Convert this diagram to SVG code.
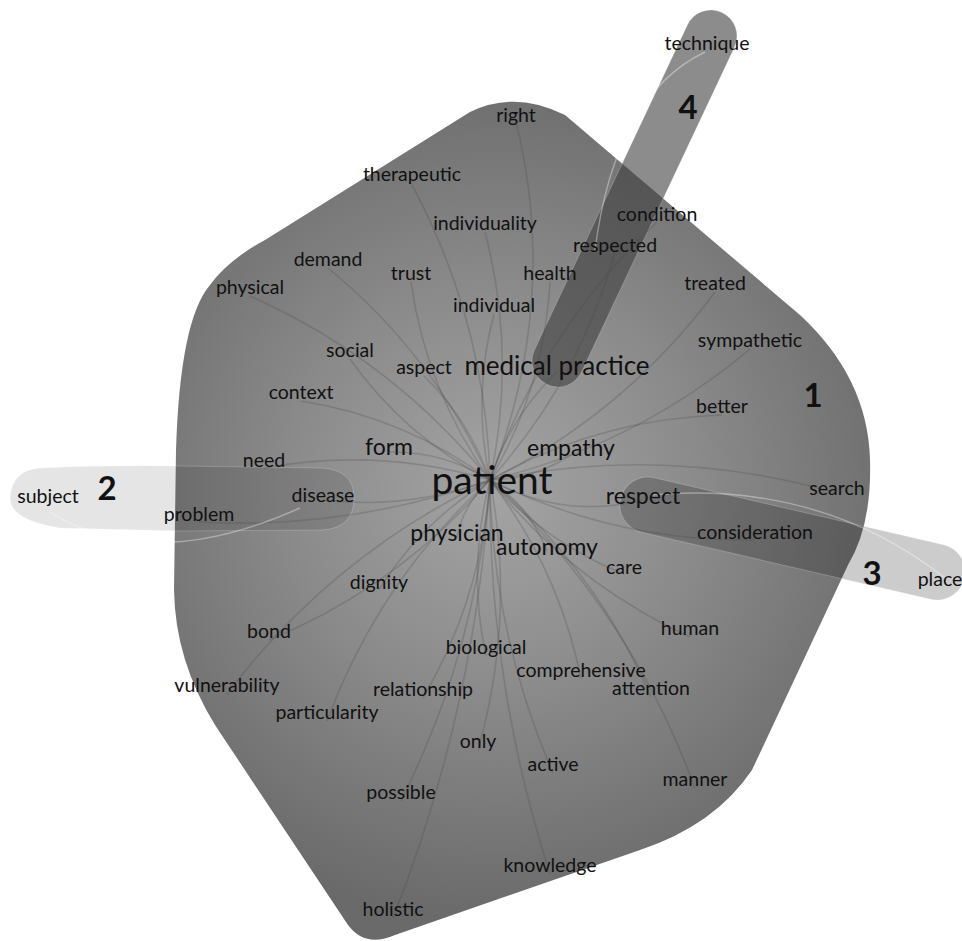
<svg xmlns="http://www.w3.org/2000/svg" width="962" height="941" viewBox="0 0 962 941">
<defs>
<radialGradient id="g1" gradientUnits="userSpaceOnUse" cx="495" cy="490" r="430">
<stop offset="0" stop-color="#a4a4a4"/>
<stop offset="0.45" stop-color="#8c8c8c"/>
<stop offset="1" stop-color="#6a6a6a"/>
</radialGradient>
</defs>
<style>
text{font-family:Lato,"Open Sans","Liberation Sans",sans-serif;fill:#111;text-anchor:middle}
.w{font-size:19.5px}
.m{font-size:23px}
.l{font-size:26px}
.xl{font-size:39px}
.n{font-size:33px;font-weight:bold}
.c path{fill:none;stroke:#4a4a4a;stroke-opacity:0.26;stroke-width:1.6}
.c path.lt{stroke:#ffffff;stroke-opacity:0.35;stroke-width:1.4}
.cl4{fill:#3f3f3f;fill-opacity:0.6;stroke:#ffffff;stroke-opacity:0.2}
.cl3{fill:#000;fill-opacity:0.2;stroke:#ffffff;stroke-opacity:0.2}
.cl2{fill:#000;fill-opacity:0.1;stroke:#ffffff;stroke-opacity:0.2}
</style>
<g id="clusters">
<path id="cluster1" fill="url(#g1)" d="M 470,112 Q 515,90 565,115 L 800,315 Q 868,378 870,460 Q 872,525 848,565 L 752,770 Q 715,825 640,850 L 395,935 Q 365,948 348,925 L 215,725 Q 175,660 174,590 L 176,450 Q 180,320 210,285 Q 228,260 265,240 Z"/>
<path id="cluster2" class="cl2" d="M 40,468 Q 100,465 180,466 L 322,468 Q 354,470 354,498 Q 354,528 322,530 L 180,531 L 60,528 Q 10,520 10,498 Q 12,470 40,468 Z"/>
<rect id="cluster3" class="cl3" x="616" y="510.5" width="353" height="56" rx="28" transform="rotate(13.05 792.5 538.5)"/>
<rect id="cluster4" class="cl4" x="429" y="172.5" width="411" height="52" rx="26" transform="rotate(-64.8 634.5 198.5)"/>
</g>
<g id="connectors" class="c">
<path d="M490,480 Q560,300 516,122"/>
<path d="M490,480 Q486,323 412,185"/>
<path d="M490,480 Q517,355 485,232"/>
<path d="M490,480 Q542,331 657,222"/>
<path d="M490,480 Q579,381 615,252"/>
<path d="M490,480 Q434,355 328,268"/>
<path d="M490,480 Q426,390 411,282"/>
<path d="M490,480 Q544,388 550,282"/>
<path d="M490,480 Q625,413 715,292"/>
<path d="M490,480 Q392,359 250,296"/>
<path d="M490,480 Q472,397 494,314"/>
<path d="M490,480 Q636,445 750,349"/>
<path d="M490,480 Q405,437 350,359"/>
<path d="M490,480 Q469,420 424,376"/>
<path d="M490,480 Q510,417 557,372"/>
<path d="M490,480 Q404,417 301,401"/>
<path d="M490,480 Q598,419 722,415"/>
<path d="M490,480 Q443,451 389,452"/>
<path d="M490,480 Q534,479 571,455"/>
<path d="M490,480 Q378,447 264,468"/>
<path d="M490,480 Q408,510 323,500"/>
<path d="M490,480 Q665,444 837,493"/>
<path d="M490,480 Q563,520 643,500"/>
<path d="M490,480 Q348,530 199,522"/>
<path d="M490,480 Q615,542 755,540"/>
<path d="M490,480 Q464,503 457,537"/>
<path d="M490,480 Q529,506 547,551"/>
<path d="M490,480 Q546,543 624,574"/>
<path d="M490,480 Q421,522 379,590"/>
<path d="M490,480 Q398,587 269,640"/>
<path d="M490,480 Q571,582 690,637"/>
<path d="M490,480 Q467,568 486,656"/>
<path d="M490,480 Q559,569 581,679"/>
<path d="M490,480 Q332,555 227,694"/>
<path d="M490,480 Q482,597 423,698"/>
<path d="M490,480 Q596,569 651,697"/>
<path d="M490,480 Q379,580 327,721"/>
<path d="M490,480 Q516,616 478,750"/>
<path d="M490,480 Q492,632 553,773"/>
<path d="M490,480 Q629,609 695,788"/>
<path d="M490,480 Q477,649 401,801"/>
<path d="M490,480 Q488,682 550,874"/>
<path d="M490,480 Q476,707 393,918"/>
<path class="lt" d="M50,512 Q150,575 300,508"/>
<path class="lt" d="M705,52 Q615,95 595,250"/>
<path class="lt" d="M945,578 Q820,480 650,495"/>
</g>
<g id="labels">
<g id="n-technique"><text class="w" x="707" y="50">technique</text></g>
<g id="n-right"><text class="w" x="516" y="122">right</text></g>
<g id="n-therapeutic"><text class="w" x="412" y="181">therapeutic</text></g>
<g id="n-individuality"><text class="w" x="485" y="230">individuality</text></g>
<g id="n-condition"><text class="w" x="657" y="221">condition</text></g>
<g id="n-respected"><text class="w" x="615" y="252">respected</text></g>
<g id="n-demand"><text class="w" x="328" y="266">demand</text></g>
<g id="n-trust"><text class="w" x="411" y="280">trust</text></g>
<g id="n-health"><text class="w" x="550" y="280">health</text></g>
<g id="n-treated"><text class="w" x="715" y="290">treated</text></g>
<g id="n-physical"><text class="w" x="250" y="294">physical</text></g>
<g id="n-individual"><text class="w" x="494" y="312">individual</text></g>
<g id="n-sympathetic"><text class="w" x="750" y="347">sympathetic</text></g>
<g id="n-social"><text class="w" x="350" y="357">social</text></g>
<g id="n-aspect"><text class="w" x="424" y="374">aspect</text></g>
<g id="n-medical-practice"><text class="l" x="557" y="375">medical practice</text></g>
<g id="n-context"><text class="w" x="301" y="399">context</text></g>
<g id="n-better"><text class="w" x="722" y="413">better</text></g>
<g id="n-form"><text class="m" x="389" y="455">form</text></g>
<g id="n-empathy"><text class="m" x="571" y="456">empathy</text></g>
<g id="n-need"><text class="w" x="264" y="467">need</text></g>
<g id="n-patient"><text class="xl" x="492" y="494">patient</text></g>
<g id="n-subject"><text class="w" x="48" y="503">subject</text></g>
<g id="n-disease"><text class="w" x="323" y="502">disease</text></g>
<g id="n-respect"><text class="m" x="643" y="504">respect</text></g>
<g id="n-search"><text class="w" x="837" y="495">search</text></g>
<g id="n-problem"><text class="w" x="199" y="521">problem</text></g>
<g id="n-consideration"><text class="w" x="755" y="539">consideration</text></g>
<g id="n-physician"><text class="m" x="457" y="541">physician</text></g>
<g id="n-autonomy"><text class="m" x="547" y="555">autonomy</text></g>
<g id="n-care"><text class="w" x="624" y="574">care</text></g>
<g id="n-place"><text class="w" x="940" y="586">place</text></g>
<g id="n-dignity"><text class="w" x="379" y="589">dignity</text></g>
<g id="n-bond"><text class="w" x="269" y="638">bond</text></g>
<g id="n-human"><text class="w" x="690" y="635">human</text></g>
<g id="n-biological"><text class="w" x="486" y="654">biological</text></g>
<g id="n-comprehensive"><text class="w" x="581" y="677">comprehensive</text></g>
<g id="n-vulnerability"><text class="w" x="227" y="692">vulnerability</text></g>
<g id="n-relationship"><text class="w" x="423" y="696">relationship</text></g>
<g id="n-attention"><text class="w" x="651" y="695">attention</text></g>
<g id="n-particularity"><text class="w" x="327" y="719">particularity</text></g>
<g id="n-only"><text class="w" x="478" y="748">only</text></g>
<g id="n-active"><text class="w" x="553" y="771">active</text></g>
<g id="n-manner"><text class="w" x="695" y="786">manner</text></g>
<g id="n-possible"><text class="w" x="401" y="799">possible</text></g>
<g id="n-knowledge"><text class="w" x="550" y="872">knowledge</text></g>
<g id="n-holistic"><text class="w" x="393" y="916">holistic</text></g>
<g id="cl-labels">
<text class="n" x="813" y="407">1</text>
<text class="n" x="107" y="500">2</text>
<text class="n" x="872" y="585">3</text>
<text class="n" x="688" y="119">4</text>
</g>
</g>
</svg>
